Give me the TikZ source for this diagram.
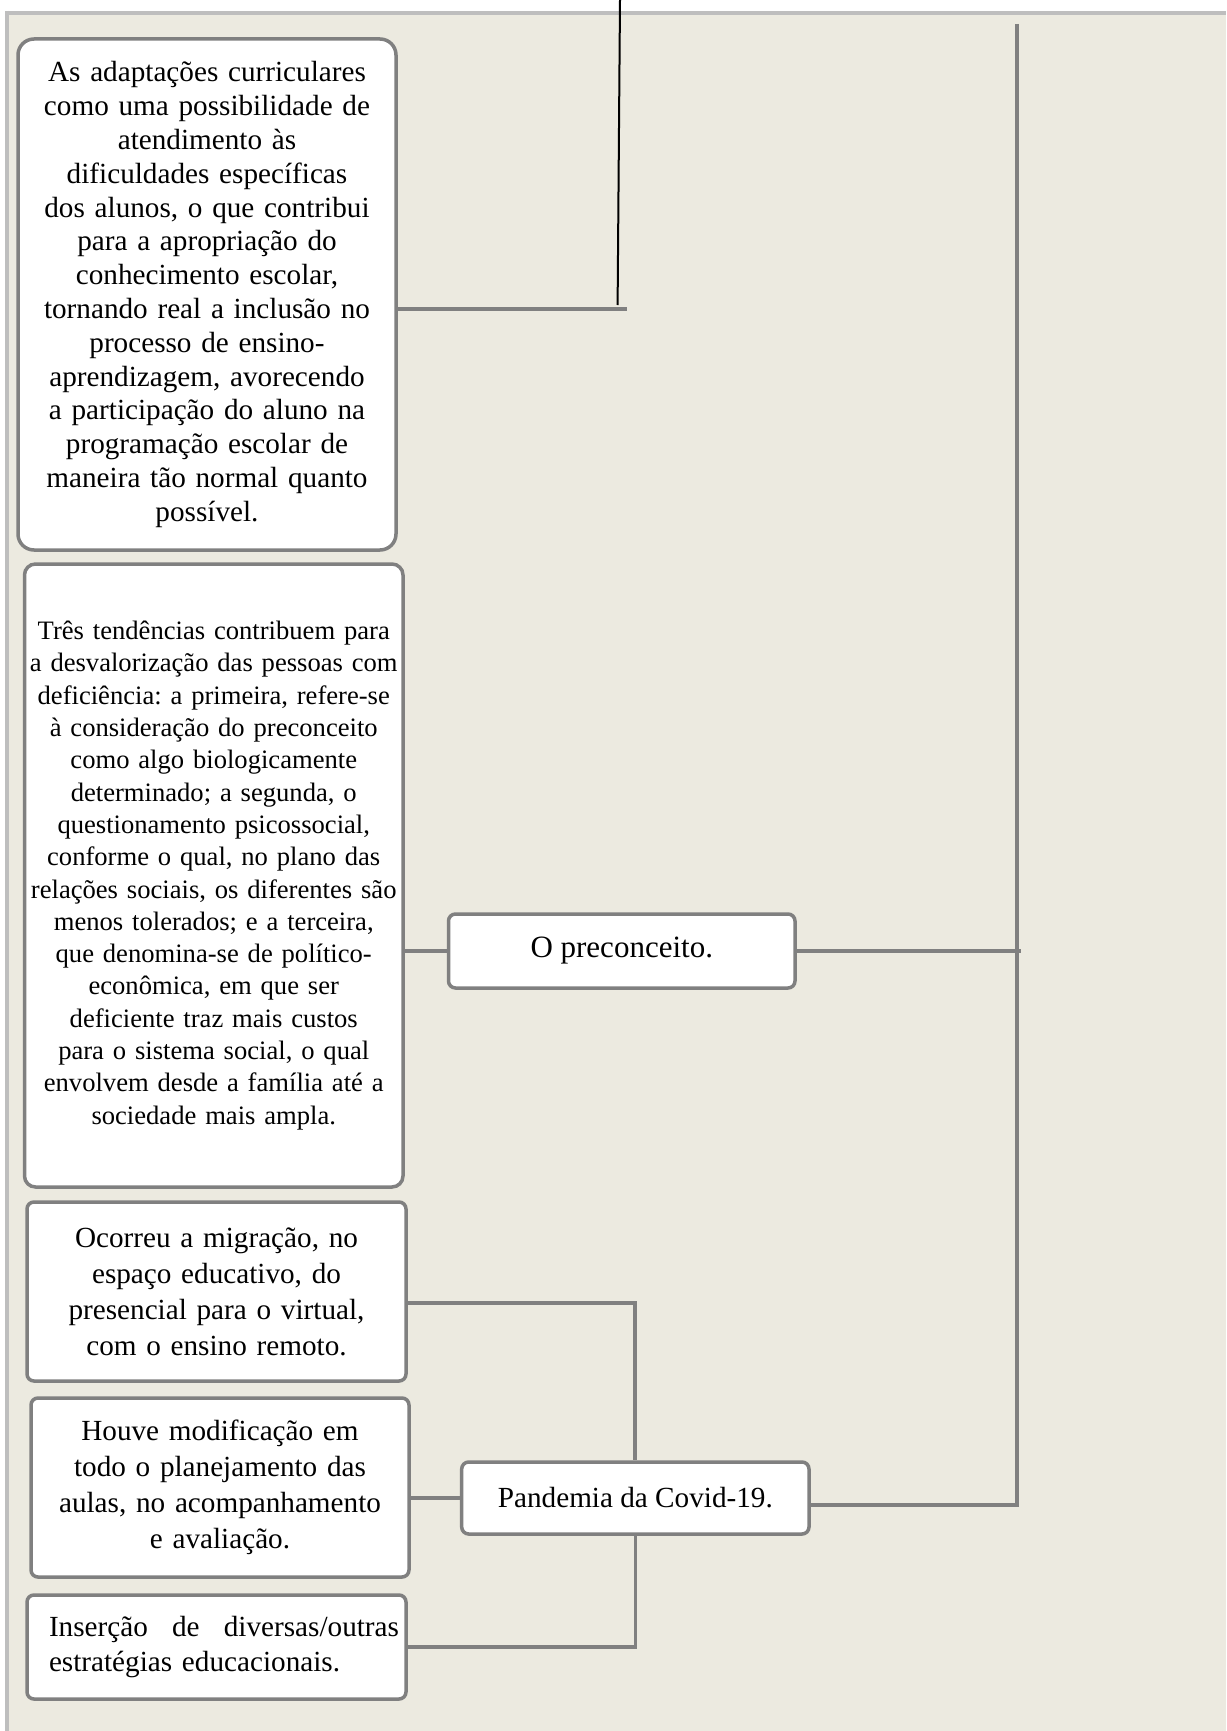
\documentclass[tikz,border=0pt]{standalone}
\usepackage{fontspec}
\setmainfont{Liberation Serif}
\definecolor{bg}{RGB}{236,234,224}
\definecolor{frm}{RGB}{190,190,190}
\definecolor{bd}{RGB}{128,128,128}
\frenchspacing
\begin{document}
\begin{tikzpicture}[x=1pt,y=-1pt,
  box/.style={draw=bd, line width=3.5pt, fill=white, inner sep=0pt, align=center},
  conn/.style={draw=bd, line width=3.5pt},
  fa/.style={font=\fontsize{29.2}{33.8}\selectfont},
  fb/.style={font=\fontsize{26.6}{32.3}\selectfont},
  fc/.style={font=\fontsize{29.2}{36}\selectfont},
]
\useasboundingbox (0,0) rectangle (1226,1731);
\fill[white] (0,0) rectangle (1226,1731);
\fill[bg] (7,13) rectangle (1226,1731);
\draw[frm, line width=4pt] (5,13) -- (1226,13);
\draw[frm, line width=4pt] (7,11) -- (7,1731);

\node[box, fa, rounded corners=16pt, minimum width=378pt, minimum height=511pt, text width=372pt] (b1) at (207,294.5) {As adaptações curriculares\\como uma possibilidade de\\atendimento às\\dificuldades específicas\\dos alunos, o que contribui\\para a apropriação do\\conhecimento escolar,\\tornando real a inclusão no\\processo de ensino-\\aprendizagem, avorecendo\\a participação do aluno na\\programação escolar de\\maneira tão normal quanto\\possível.};

\node[box, fb, rounded corners=11pt, minimum width=378.5pt, minimum height=623pt, text width=372pt] (b2) at (213.75,875.5) {Três tendências contribuem para\\a desvalorização das pessoas com\\deficiência: a primeira, refere-se\\à consideração do preconceito\\como algo biologicamente\\determinado; a segunda, o\\questionamento psicossocial,\\conforme o qual, no plano das\\relações sociais, os diferentes são\\menos tolerados; e a terceira,\\que denomina-se de político-\\econômica, em que ser\\deficiente traz mais custos\\para o sistema social, o qual\\envolvem desde a família até a\\sociedade mais ampla.};

\node[box, font=\fontsize{31}{36}\selectfont, rounded corners=7pt, minimum width=346.5pt, minimum height=74pt] (pre) at (621.75,951) {O preconceito.};

\node[box, fc, rounded corners=7pt, minimum width=379pt, minimum height=179pt, text width=372pt] (b3) at (216.5,1291.5) {Ocorreu a migração, no\\espaço educativo, do\\presencial para o virtual,\\com o ensino remoto.};

\node[box, fc, rounded corners=7pt, minimum width=378pt, minimum height=179pt, text width=372pt] (b4) at (220,1487.5) {Houve modificação em\\todo o planejamento das\\aulas, no acompanhamento\\e avaliação.};

\node[box, font=\fontsize{29.2}{35}\selectfont, align=left, rounded corners=7pt, minimum width=379pt, minimum height=104pt, text width=365pt] (b5) at (216.5,1647) {\hspace*{15pt}\hbox to 350pt{Inserção\hfill de\hfill diversas/outras}\\\hspace*{15pt}estratégias educacionais.};

\node[box, fa, rounded corners=7pt, minimum width=347.3pt, minimum height=72pt] (pan) at (635.35,1498) {Pandemia da Covid-19.};

\coordinate (j1) at (627,309);
\coordinate (k0) at (620,0);
\coordinate (k1) at (617.6,305);
\coordinate (rt) at (1017,24);
\coordinate (rb) at (1017,1505);
\coordinate (rp) at (1021,951);
\coordinate (j3) at (635,1303);

\draw[conn] (b1.east |- j1) -- (j1);
\draw[black, line width=2pt] (k0) -- (k1);
\draw[conn] (b2.east |- pre.west) -- (pre.west);
\draw[conn] (pre.east) -- (rp);
\draw[conn] (rt) -- (rb) -- (pan.east |- rb);
\draw[conn] (b3.east |- j3) -- (j3) -- (j3 |- pan.north);
\draw[conn] (b4.east |- pan.west) -- (pan.west);
\draw[conn] (pan.south) -- (pan.south |- b5.east) -- (b5.east);
\end{tikzpicture}
\end{document}
